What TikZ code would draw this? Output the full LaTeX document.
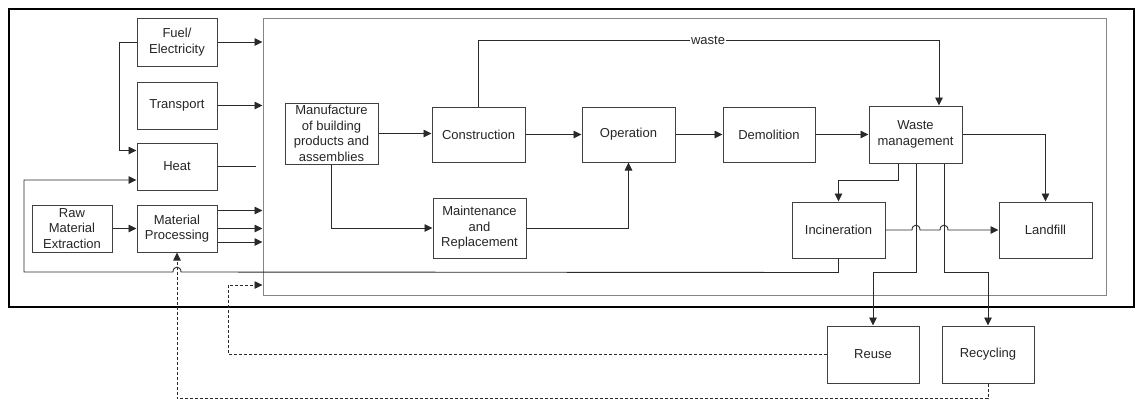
\documentclass[tikz,border=0pt]{standalone}
\usepackage{fontspec}
\setmainfont{Liberation Sans}
\usetikzlibrary{arrows.meta,calc}
\definecolor{boxc}{HTML}{404040}
\definecolor{linec}{HTML}{2A2A2A}
\definecolor{innerc}{HTML}{858585}
\definecolor{txtc}{HTML}{262626}
\tikzset{
  box/.style={draw=boxc, line width=1pt, fill=white, align=center, text=txtc,
    font=\fontsize{13pt}{15.5pt}\selectfont, inner sep=1pt},
  conn/.style={draw=linec, line width=0.9pt},
  arr/.style={conn, -{Triangle[length=8pt,width=7.5pt]}},
  dsh/.style={draw=linec, line width=0.8pt, dash pattern=on 3pt off 2pt},
  darr/.style={dsh, -{Triangle[length=8pt,width=7.5pt]}},
}
\begin{document}
\begin{tikzpicture}[x=1pt,y=-1pt]
\useasboundingbox (0,0) rectangle (1136,400);
% frames
\node[draw=black, line width=2.6pt, minimum width=1125pt, minimum height=298pt, inner sep=0pt] (outer) at (571.5,158) {};
\node[draw=innerc, line width=1pt, minimum width=843pt, minimum height=277pt, inner sep=0pt] (inner) at (684.5,156.5) {};
% boxes
\node[box, minimum width=80pt, minimum height=48pt] (fuel) at (177,42) {Fuel/\\Electricity};
\node[box, minimum width=80pt, minimum height=47pt] (trans) at (177,105.5) {Transport};
\node[box, minimum width=80pt, minimum height=47pt] (heat) at (177,166.5) {Heat};
\node[box, minimum width=80pt, minimum height=47pt] (raw) at (72,228.5) {Raw\\Material\\Extraction};
\node[box, minimum width=80pt, minimum height=47pt] (mp) at (177,228.5) {Material\\Processing};
\node[box, minimum width=93pt, minimum height=61pt] (manuf) at (331.5,133.5) {Manufacture\\of building\\products and\\assemblies};
\node[box, minimum width=93pt, minimum height=55pt] (cons) at (478.5,134.5) {Construction};
\node[box, minimum width=93pt, minimum height=55pt] (oper) at (628.5,134.5) {Operation};
\node[box, minimum width=93pt, minimum height=60pt] (maint) at (479.5,228) {Maintenance\\and\\Replacement};
\node[box, minimum width=92pt, minimum height=55pt] (demo) at (769,134.5) {Demolition};
\node[box, minimum width=93pt, minimum height=57pt] (waste) at (915.5,134.5) {Waste\\management};
\node[box, minimum width=93pt, minimum height=56pt] (inc) at (838.5,230) {Incineration};
\node[box, minimum width=93pt, minimum height=56pt] (land) at (1045.5,230) {Landfill};
\node[box, minimum width=92pt, minimum height=57pt] (reuse) at (873,354.5) {Reuse};
\node[box, minimum width=92pt, minimum height=57pt] (recyc) at (988,354.5) {Recycling};
% left inputs
\draw[arr] (fuel.east) -- (fuel.east -| inner.west);
\draw[arr] (trans.east) -- (trans.east -| inner.west);
\draw[conn] (heat.east) -- ++(38,0);
\draw[arr] (fuel.west) -- ++(-17,0) |- ([yshift=16pt]heat.west);
\draw[arr] ([yshift=18pt]mp.east) -- ([yshift=18pt]mp.east -| inner.west);
\draw[arr] (mp.east) -- (mp.east -| inner.west);
\draw[arr] ([yshift=-13.5pt]mp.east) -- ([yshift=-13.5pt]mp.east -| inner.west);
\draw[arr] (raw.east) -- (mp.west);
% loop from incineration back to heat
\draw[arr] (inc.south) -- ++(0,14) -- (181,272) .. controls (181,265.5) and (173,265.5) .. (173,272)
  -- (24,272) |- ([yshift=-13.5pt]heat.west);
% main chain
\draw[arr] (manuf.east) -- (manuf.east -| cons.west);
\draw[arr] (manuf.south) |- (maint.west);
\draw[arr] (cons.east) -- (cons.east -| oper.west);
\draw[arr] (maint.east) -| (oper.south);
\draw[arr] (oper.east) -- (oper.east -| demo.west);
\draw[arr] (demo.east) -- (demo.east -| waste.west);
\draw[arr] (cons.north) -- ++(0,-66) -| ([xshift=23.5pt]waste.north);
\node[fill=white, inner sep=1pt, text=txtc, font=\fontsize{13pt}{15pt}\selectfont] (wlab) at (708,40) {waste};
% waste management outputs
\draw[arr] (waste.east) -| (land.north);
\draw[arr] ([xshift=-17.5pt]waste.south) -- ++(0,17) -| (inc.north);
\draw[arr] ([xshift=0.5pt]waste.south) -- ++(0,109) -| (reuse.north);
\draw[arr] ([xshift=28.5pt]waste.south) -- ++(0,109) -| (recyc.north);
\draw[arr] (inc.east) -- (912,230) .. controls (912,223.5) and (920,223.5) .. (920,230)
  -- (940,230) .. controls (940,223.5) and (948,223.5) .. (948,230) -- (land.west);
% dashed feedback
\coordinate (rj) at (228,285);
\draw[darr] (reuse.west) -| (rj) -- (rj -| inner.west);
\draw[darr] (recyc.south) -- ++(0,15) -| (mp.south);
\end{tikzpicture}
\end{document}
